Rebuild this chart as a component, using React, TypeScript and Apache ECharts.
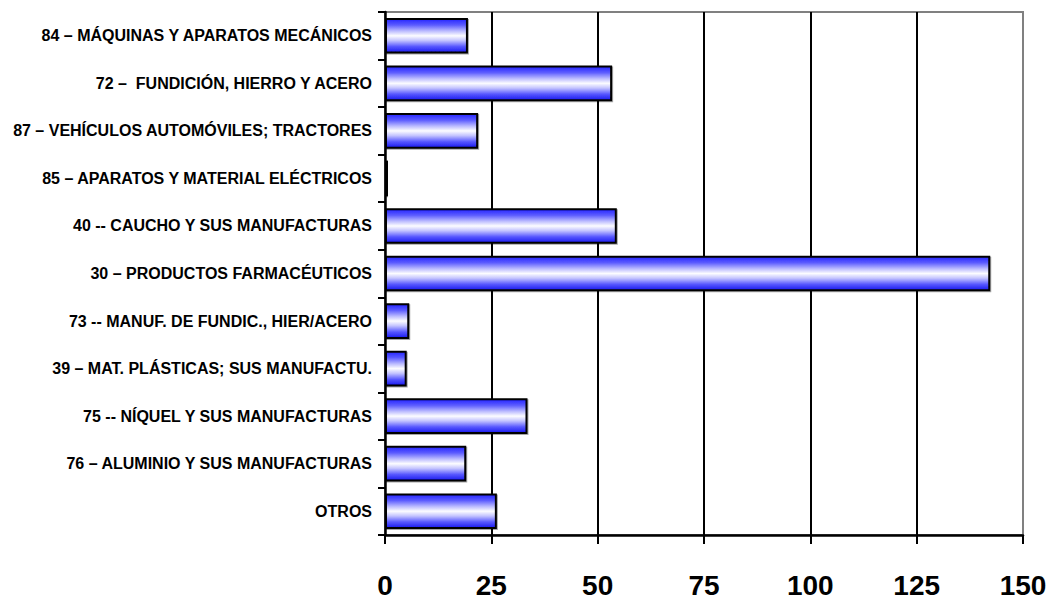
import React, { useEffect, useRef } from "react";
import * as echarts from "echarts";

const categories: string[] = [
  "84 – MÁQUINAS Y APARATOS MECÁNICOS",
  "72 –  FUNDICIÓN, HIERRO Y ACERO",
  "87 – VEHÍCULOS AUTOMÓVILES; TRACTORES",
  "85 – APARATOS Y MATERIAL ELÉCTRICOS",
  "40 -- CAUCHO Y SUS MANUFACTURAS",
  "30 – PRODUCTOS FARMACÉUTICOS",
  "73 -- MANUF. DE FUNDIC., HIER/ACERO",
  "39 – MAT. PLÁSTICAS; SUS MANUFACTU.",
  "75 -- NÍQUEL Y SUS MANUFACTURAS",
  "76 – ALUMINIO Y SUS MANUFACTURAS",
  "OTROS",
];

const values: number[] = [19.5, 53.4, 21.9, 0.7, 54.5, 142.3, 5.7, 5.1, 33.5, 19.1, 26.3];

const xMin = 0;
const xMax = 150;
const xInterval = 25;

export default function App() {
  const ref = useRef<HTMLDivElement>(null);

  useEffect(() => {
    document.body.style.margin = "0";
    if (!ref.current) return;
    const chart = echarts.init(ref.current, null, { renderer: "svg" });
    const gradient = new echarts.graphic.LinearGradient(0, 0, 0, 1, [
      { offset: 0, color: "#2424ff" },
      { offset: 0.18, color: "#5c5cff" },
      { offset: 0.36, color: "#bcbcff" },
      { offset: 0.5, color: "#fcfcff" },
      { offset: 0.64, color: "#c4c4ff" },
      { offset: 0.82, color: "#5858ff" },
      { offset: 1, color: "#1818ee" },
    ]);
    chart.setOption({
      animation: false,
      backgroundColor: "#ffffff",
      grid: {
        left: 385,
        right: 33,
        top: 12,
        bottom: 62,
        show: true,
        borderColor: "#808080",
        borderWidth: 2,
        backgroundColor: "transparent",
      },
      xAxis: {
        type: "value",
        min: xMin,
        max: xMax,
        interval: xInterval,
        axisLine: { show: true, lineStyle: { color: "#000", width: 2.5 } },
        axisTick: { show: true, length: 9, lineStyle: { color: "#000", width: 2 } },
        splitLine: {
          show: true,
          showMinLine: false,
          showMaxLine: false,
          lineStyle: { color: "#000", width: 2 },
        },
        axisLabel: {
          margin: 36,
          color: "#000",
          fontFamily: "'Liberation Sans', Arial, sans-serif",
          fontWeight: "bold",
          fontSize: 28,
        },
      },
      yAxis: {
        type: "category",
        inverse: true,
        data: categories,
        axisLine: { show: true, lineStyle: { color: "#000", width: 2.5 } },
        axisTick: { show: true, length: 7, lineStyle: { color: "#000", width: 2 } },
        splitLine: { show: false },
        axisLabel: {
          margin: 13,
          color: "#000",
          fontFamily: "'Liberation Sans', Arial, sans-serif",
          fontWeight: "bold",
          fontSize: 16,
        },
      },
      series: [
        {
          type: "bar",
          data: values,
          barCategoryGap: "25%",
          itemStyle: {
            color: gradient,
            borderColor: "#000",
            borderWidth: 2,
            shadowColor: "rgba(0,0,0,0.35)",
            shadowOffsetX: 1,
            shadowOffsetY: 1,
            shadowBlur: 1,
          },
        },
      ],
    });
    return () => chart.dispose();
  }, []);

  return <div ref={ref} style={{ width: 1056, height: 599 }} />;
}
